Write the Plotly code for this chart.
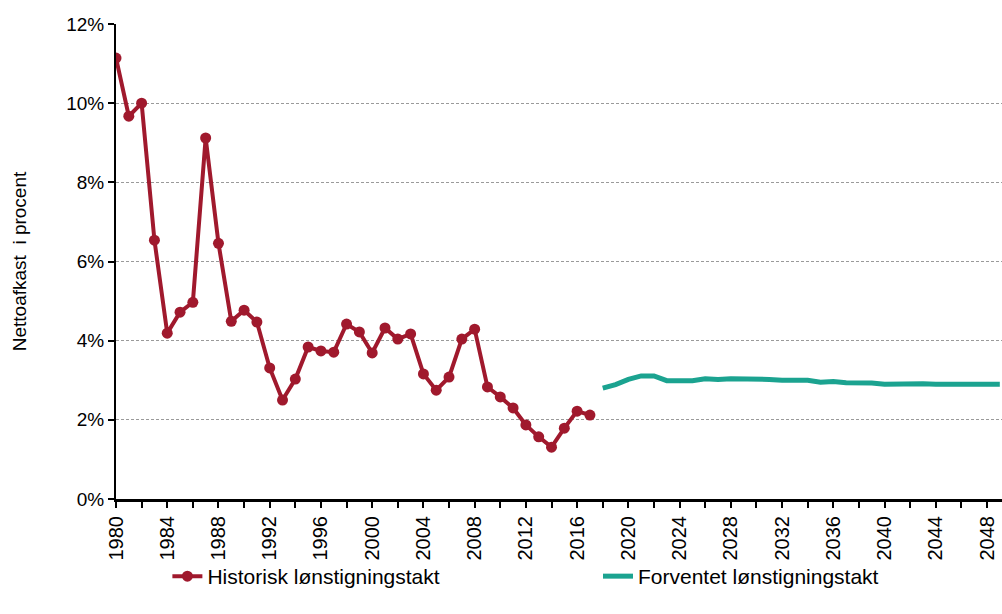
"""Historisk vs. forventet lønstigningstakt, 1980-2049."""

import plotly.graph_objects as go

HIST_YEARS = list(range(1980, 2018))
HIST_VALUES = [
    11.14, 9.67, 10.00, 6.54, 4.19, 4.72, 4.97, 9.12, 6.46, 4.49,
    4.77, 4.47, 3.31, 2.50, 3.03, 3.84, 3.74, 3.71, 4.42, 4.22,
    3.69, 4.32, 4.04, 4.17, 3.16, 2.75, 3.08, 4.04, 4.29, 2.83,
    2.58, 2.30, 1.87, 1.57, 1.31, 1.79, 2.22, 2.12,
]

FORECAST_YEARS = list(range(2018, 2050))
FORECAST_VALUES = [
    2.80, 2.89, 3.02, 3.11, 3.11, 2.99, 2.99, 2.99, 3.04, 3.02,
    3.04, 3.04, 3.02, 3.02, 3.00, 3.00, 3.00, 2.95, 2.97, 2.94,
    2.94, 2.93, 2.90, 2.91, 2.90, 2.91, 2.90, 2.90, 2.91, 2.90,
    2.90, 2.90,
]

X_TICKS = list(range(1980, 2049, 4))
Y_TICKS = list(range(0, 13, 2))
Y_TICK_LABELS = [f"{v}%" for v in Y_TICKS]

HIST_COLOR = "#a0192d"
FORECAST_COLOR = "#1ba390"
FONT = "Arial, 'Liberation Sans', sans-serif"

fig = go.Figure()
fig.add_trace(
    go.Scatter(
        x=HIST_YEARS,
        y=HIST_VALUES,
        mode="lines+markers",
        name="Historisk lønstigningstakt",
        line=dict(color=HIST_COLOR, width=4),
        marker=dict(color=HIST_COLOR, size=11),
        legend="legend",
    )
)
fig.add_trace(
    go.Scatter(
        x=FORECAST_YEARS,
        y=FORECAST_VALUES,
        mode="lines",
        name="Forventet lønstigningstakt",
        line=dict(color=FORECAST_COLOR, width=5),
        legend="legend2",
    )
)

legend_common = dict(
    orientation="h",
    y=-0.12,
    xanchor="left",
    yanchor="top",
    font=dict(size=21),
    bgcolor="rgba(0,0,0,0)",
)

fig.update_layout(
    width=1002,
    height=614,
    paper_bgcolor="white",
    plot_bgcolor="white",
    margin=dict(l=116, r=0, t=24, b=115),
    font=dict(family=FONT, size=19, color="black"),
    showlegend=True,
    legend=dict(x=0.058, **legend_common),
    legend2=dict(x=0.544, **legend_common),
)
fig.update_xaxes(
    range=[1980, 2049.17],
    tickvals=X_TICKS,
    tickangle=-90,
    ticks="outside",
    ticklen=6,
    tickwidth=2,
    tickcolor="black",
    showline=True,
    linecolor="black",
    linewidth=3,
    showgrid=False,
    zeroline=False,
    automargin=False,
    minor=dict(dtick=2, tick0=1980, ticks="outside", ticklen=6, tickwidth=2, tickcolor="black"),
    tickfont=dict(size=20),
)
fig.update_yaxes(
    range=[0, 12],
    tickvals=Y_TICKS,
    ticktext=Y_TICK_LABELS,
    ticks="outside",
    ticklen=6,
    tickwidth=2,
    tickcolor="black",
    showline=True,
    linecolor="black",
    linewidth=2,
    showgrid=True,
    gridcolor="#9a9a9a",
    griddash="3px,2px",
    gridwidth=1,
    zeroline=False,
    automargin=False,
    tickfont=dict(size=19),
    title=dict(text="Nettoafkast  i procent", font=dict(size=19), standoff=35),
)

# drop the browser's default body margin so the figure sits at the page origin
fig.write_html(
    "out.html",
    config={"displayModeBar": False},
    post_script="document.body.style.margin='0';",
)
